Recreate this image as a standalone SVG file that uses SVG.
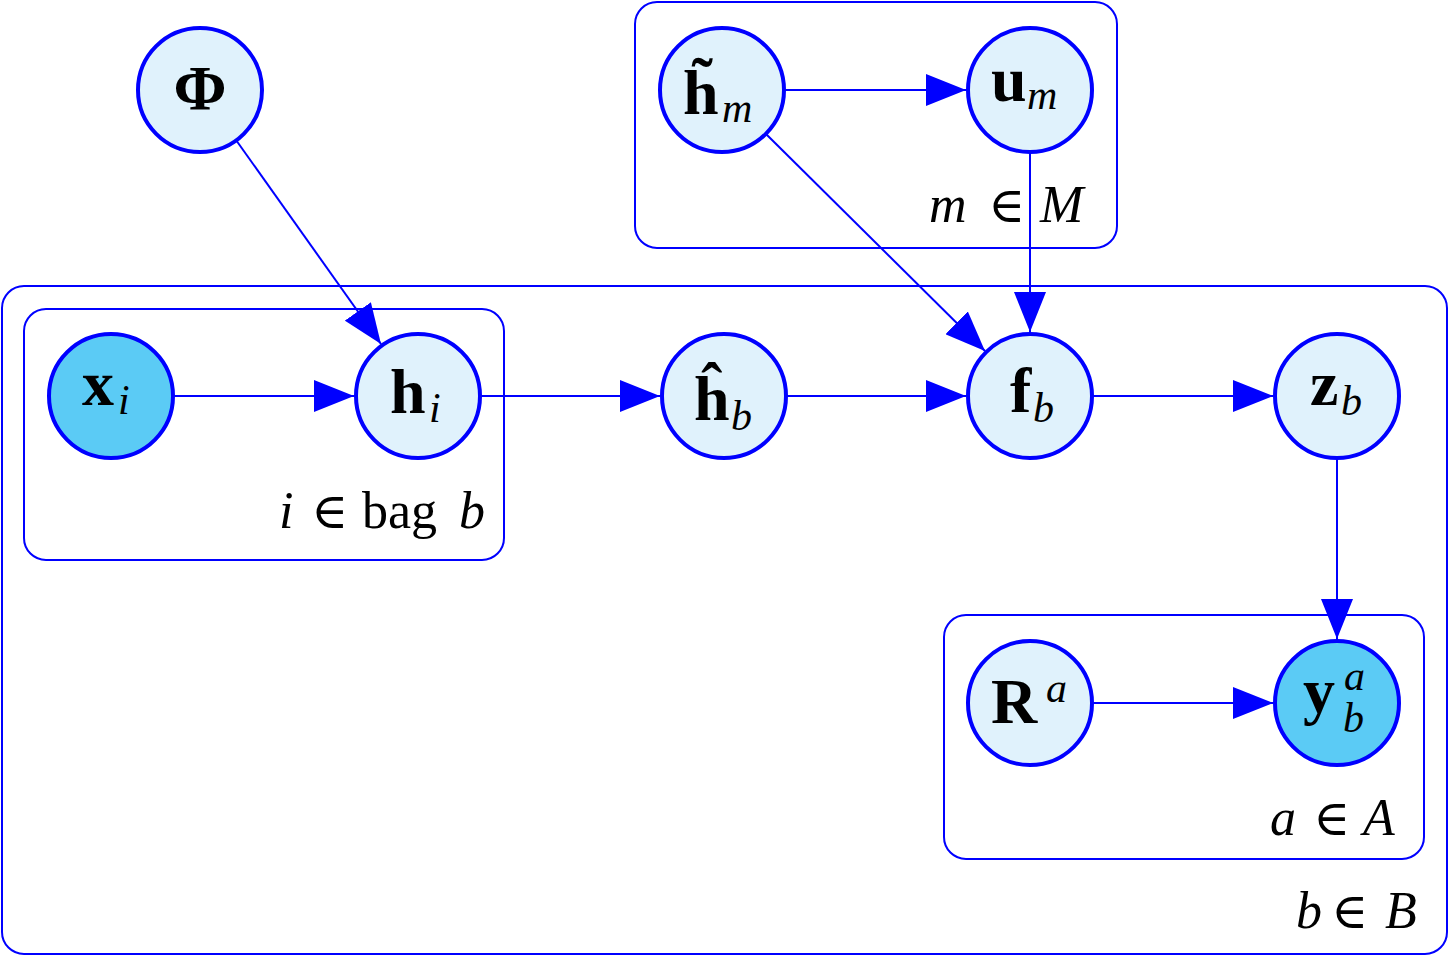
<svg xmlns="http://www.w3.org/2000/svg" width="1449" height="956" viewBox="0 0 1449 956">
<style>
.plate{fill:none;stroke:#0000ff;stroke-width:2}
.lat{fill:#e0f2fc;stroke:#0000ff;stroke-width:4}
.obs{fill:#5bcbf5;stroke:#0000ff;stroke-width:4}
.edge{stroke:#0000ff;stroke-width:2;fill:none;marker-end:url(#ah)}
.b{font-family:"Liberation Serif",serif;font-weight:bold;font-size:64px;fill:#000}
.s{font-family:"Liberation Serif",serif;font-style:italic;font-size:42px;fill:#000}
.pl{font-family:"Liberation Serif",serif;font-style:italic;font-size:52px;fill:#000}
.pr{font-family:"Liberation Serif","DejaVu Serif",serif;font-style:normal;font-size:52px;fill:#000}
.el{font-family:"DejaVu Serif",serif;font-style:normal;font-size:50px;fill:#000}
</style>
<defs>
<marker id="ah" markerUnits="userSpaceOnUse" markerWidth="40" markerHeight="32" refX="40" refY="16" orient="auto" viewBox="0 0 40 32">
<path d="M0,0 L40,16 L0,32 z" fill="#0000ff"/>
</marker>
</defs>
<rect width="1449" height="956" fill="#fff"/>
<g id="plates">
<g id="plate-M"><rect class="plate" x="635" y="2" width="482" height="246" rx="22"/>
<text class="pl" y="222"><tspan x="929">m</tspan><tspan class="el" x="988">∈</tspan><tspan x="1040">M</tspan></text></g>
<g id="plate-B"><rect class="plate" x="2" y="286" width="1445" height="668" rx="22"/>
<text class="pl" y="928"><tspan x="1296">b</tspan><tspan class="el" x="1331">∈</tspan><tspan x="1385">B</tspan></text></g>
<g id="plate-bag"><rect class="plate" x="24" y="309" width="480" height="251" rx="22"/>
<text class="pl" y="528"><tspan x="279">i</tspan><tspan class="el" x="311">∈</tspan><tspan class="pr" x="362">bag</tspan><tspan x="459">b</tspan></text></g>
<g id="plate-A"><rect class="plate" x="944" y="615" width="480" height="244" rx="22"/>
<text class="pl" y="835"><tspan x="1270">a</tspan><tspan class="el" x="1313">∈</tspan><tspan x="1363">A</tspan></text></g>
</g>
<g id="connectors">
<line class="edge" x1="236" y1="140" x2="381" y2="344"/>
<line class="edge" x1="766" y1="134" x2="985" y2="351"/>
<line class="edge" x1="1030" y1="152" x2="1030" y2="332"/>
<line class="edge" x1="784" y1="90" x2="966" y2="90"/>
<line class="edge" x1="173" y1="396" x2="354" y2="396"/>
<line class="edge" x1="480" y1="396" x2="660" y2="396"/>
<line class="edge" x1="786" y1="396" x2="966" y2="396"/>
<line class="edge" x1="1092" y1="396" x2="1273" y2="396"/>
<line class="edge" x1="1337" y1="458" x2="1337" y2="639"/>
<line class="edge" x1="1092" y1="703" x2="1273" y2="703"/>
</g>
<g id="node-Phi"><circle class="lat" cx="200" cy="90" r="62"/><text class="b" x="200" y="110" text-anchor="middle" font-size="58">Φ</text></g>
<g id="node-htilde"><circle class="lat" cx="722" cy="90" r="62"/><text class="b" x="683" y="114">h̃</text><text class="s" x="722" y="122">m</text></g>
<g id="node-u"><circle class="lat" cx="1030" cy="90" r="62"/><text class="b" x="991" y="101">u</text><text class="s" x="1027" y="109">m</text></g>
<g id="node-x"><circle class="obs" cx="111" cy="396" r="62"/><text class="b" x="82" y="405">x</text><text class="s" x="118" y="414">i</text></g>
<g id="node-h"><circle class="lat" cx="418" cy="396" r="62"/><text class="b" x="390" y="413">h</text><text class="s" x="429" y="422">i</text></g>
<g id="node-hhat"><circle class="lat" cx="724" cy="396" r="62"/><text class="b" x="694" y="420">ĥ</text><text class="s" x="731" y="430">b</text></g>
<g id="node-f"><circle class="lat" cx="1030" cy="396" r="62"/><text class="b" x="1010" y="412">f</text><text class="s" x="1033" y="422">b</text></g>
<g id="node-z"><circle class="lat" cx="1337" cy="396" r="62"/><text class="b" x="1310" y="405">z</text><text class="s" x="1341" y="415">b</text></g>
<g id="node-R"><circle class="lat" cx="1030" cy="703" r="62"/><text class="b" x="991" y="723">R</text><text class="s" x="1046" y="702">a</text></g>
<g id="node-y"><circle class="obs" cx="1337" cy="703" r="62"/><text class="b" x="1303" y="712">y</text><text class="s" x="1344" y="690">a</text><text class="s" x="1343" y="732" font-size="40">b</text></g>
</svg>
